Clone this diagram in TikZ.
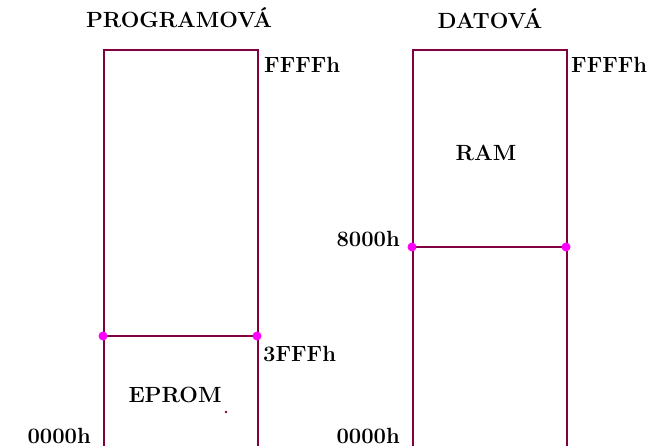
\documentclass[tikz,border=0pt]{standalone}
\usepackage{fontspec}
\definecolor{memline}{RGB}{128,0,64}
\definecolor{jointc}{RGB}{255,0,255}
\begin{document}
\begin{tikzpicture}[x=1pt,y=-1pt,
  membox/.style={draw=memline, line width=2pt, rectangle, inner sep=0pt, anchor=north west, minimum width=154pt, minimum height=398pt},
  mem/.style={draw=memline, line width=2pt},
  lbl/.style={font=\fontsize{22}{26}\selectfont\bfseries, inner sep=0pt},
  joint/.style={circle, fill=jointc, inner sep=0pt, minimum size=9pt}]
\useasboundingbox (0,0) rectangle (666,446);
% memory boxes
\node[membox] (progbox) at (103,49) {};
\node[membox] (databox) at (412,49) {};
% dividers
\coordinate (pl) at (103,336);
\coordinate (pr) at (257,336);
\coordinate (dl) at (412,247);
\coordinate (dr) at (566,247);
\draw[mem] (pl) -- (pr);
\draw[mem] (dl) -- (dr);
\node[joint] (jpl) at (pl) {};
\node[joint] (jpr) at (pr) {};
\node[joint] (jdl) at (dl) {};
\node[joint] (jdr) at (dr) {};
% small mark
\fill[memline] (226,412) circle (1.4);
% titles
\node[lbl, anchor=base] (tprog) at (179,28) {PROGRAMOVÁ};
\node[lbl, anchor=base] (tdata) at (490,29) {DATOVÁ};
% address labels
\node[lbl, anchor=base west] (pffff) at (264,73) {FFFFh};
\node[lbl, anchor=base west] (dffff) at (571,73) {FFFFh};
\node[lbl, anchor=base west] (p3fff) at (263,361) {3FFFh};
\node[lbl, anchor=base east] (d8000) at (400,247) {8000h};
\node[lbl, anchor=base east] (p0000) at (91,443) {0000h};
\node[lbl, anchor=base east] (d0000) at (400,443) {0000h};
% region labels
\node[lbl, anchor=base] (ram) at (486,161) {RAM};
\node[lbl, anchor=base] (eprom) at (175,402) {EPROM};
\end{tikzpicture}
\end{document}
